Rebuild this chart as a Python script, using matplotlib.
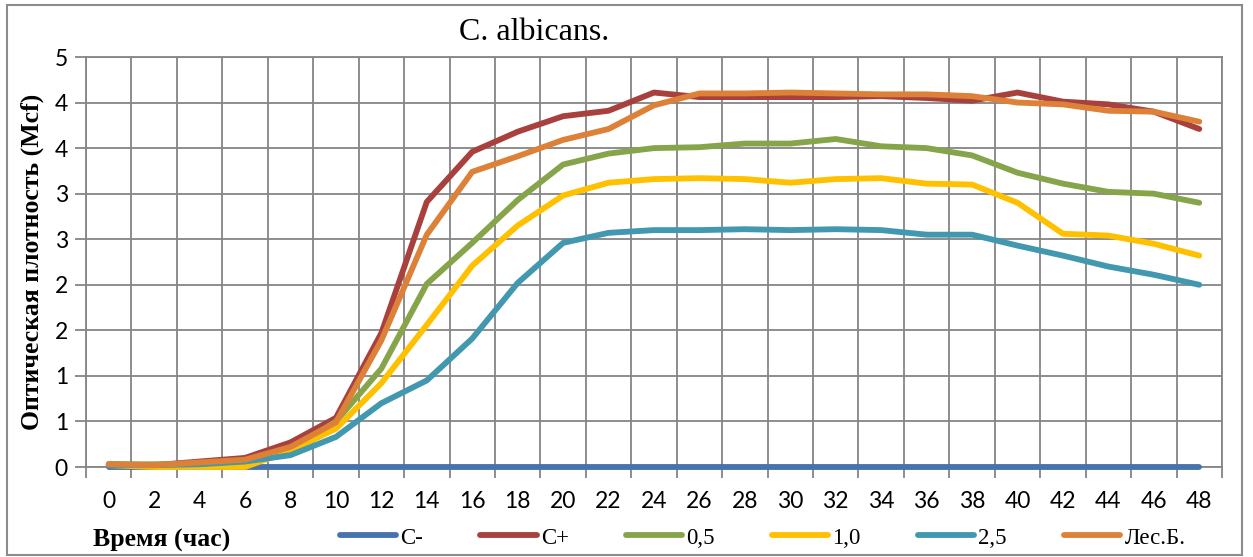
import matplotlib
matplotlib.use("Agg")
import matplotlib.pyplot as plt
from matplotlib.patches import Rectangle
import numpy as np

# time points (hours)
hours = [0, 2, 4, 6, 8, 10, 12, 14, 16, 18, 20, 22, 24, 26, 28, 30, 32, 34, 36, 38, 40, 42, 44, 46, 48]

# optical density per group
c_minus = [0, 0, 0, 0, 0, 0, 0, 0, 0, 0, 0, 0, 0, 0, 0, 0, 0, 0, 0, 0, 0, 0, 0, 0, 0]
c_plus = [0.03, 0.02, 0.06, 0.10, 0.27, 0.54, 1.47, 2.91, 3.46, 3.68, 3.85, 3.91, 4.11,
          4.06, 4.06, 4.06, 4.06, 4.07, 4.05, 4.02, 4.11, 4.01, 3.98, 3.90, 3.71]
c_05 = [0.03, 0.03, 0.04, 0.07, 0.19, 0.50, 1.08, 2.01, 2.46, 2.93, 3.32, 3.44, 3.50,
        3.51, 3.55, 3.55, 3.60, 3.52, 3.50, 3.42, 3.23, 3.11, 3.02, 3.00, 2.90]
c_10 = [0.02, 0.0, 0.0, 0.0, 0.18, 0.42, 0.92, 1.56, 2.21, 2.65, 2.98, 3.12, 3.16,
        3.17, 3.16, 3.12, 3.16, 3.17, 3.11, 3.10, 2.90, 2.56, 2.54, 2.45, 2.32]
c_25 = [0.02, 0.02, 0.03, 0.06, 0.13, 0.33, 0.70, 0.95, 1.41, 2.02, 2.46, 2.57, 2.60,
        2.60, 2.61, 2.60, 2.61, 2.60, 2.55, 2.55, 2.43, 2.32, 2.20, 2.11, 2.00]
les_b = [0.03, 0.02, 0.05, 0.08, 0.22, 0.49, 1.39, 2.55, 3.24, 3.41, 3.59, 3.71, 3.97,
         4.10, 4.10, 4.11, 4.10, 4.09, 4.09, 4.07, 4.00, 3.98, 3.91, 3.90, 3.79]

series = [
    ("C-", c_minus, "#4672AE"),
    ("C+", c_plus, "#A8413E"),
    ("0,5", c_05, "#86A54A"),
    ("1,0", c_10, "#FFC000"),
    ("2,5", c_25, "#4198AF"),
    ("Лес.Б.", les_b, "#DD8139"),
]

y_ticks = [0, 0.5, 1.0, 1.5, 2.0, 2.5, 3.0, 3.5, 4.0, 4.5]
y_tick_labels = ["0", "1", "1", "2", "2", "3", "3", "4", "4", "5"]

W, H = 1253, 557
grid_col = "#858585"
serif = "Liberation Serif"
tick_font = "Lato"

fig = plt.figure(figsize=(W / 100, H / 100), dpi=100)
ax = fig.add_axes([86 / W, 1 - 467 / H, (1222 - 86) / W, (467 - 57) / H])

for name, vals, col in series:
    ax.plot(hours, vals, color=col, lw=4.2, label=name, zorder=3,
            solid_capstyle="round", solid_joinstyle="round", clip_on=False)

ax.set_xlim(-1, 49)
ax.set_ylim(0, 4.5)
ax.set_xticks(hours)
ax.set_xticklabels([str(h) for h in hours], fontfamily=tick_font, fontsize=16.5)
ax.set_xticks(np.arange(-1, 50, 2), minor=True)
ax.set_yticks(y_ticks)
ax.set_yticklabels(y_tick_labels, fontfamily=tick_font, fontsize=16.5)

ax.tick_params(axis="x", which="major", length=0, pad=17)
ax.tick_params(axis="x", which="minor", length=8, width=1.3, color=grid_col)
ax.tick_params(axis="y", which="major", length=8, width=1.3, color=grid_col, pad=5)

ax.grid(True, which="minor", axis="x", color=grid_col, lw=1.3)
ax.grid(True, which="major", axis="y", color=grid_col, lw=1.3)
ax.set_axisbelow(True)
for s in ax.spines.values():
    s.set_color(grid_col)
    s.set_linewidth(1.3)

fig.text(534 / W, 1 - 32 / H, "C. albicans.", fontfamily=serif, fontsize=23,
         ha="center", va="center")
fig.text(32 / W, 1 - 262 / H, "Оптическая плотность (Mcf)", fontfamily=serif,
         fontsize=18.5, fontweight="bold", rotation=90, ha="center", va="center")
fig.text(93 / W, 1 - 547 / H, "Время (час)", fontfamily=serif, fontsize=18.5,
         fontweight="bold", ha="left", va="baseline")

fig.legend(loc="center left", bbox_to_anchor=(340 / W, 1 - 538 / H), ncol=6,
           frameon=False, prop={"family": serif, "size": 16.5},
           handlelength=2.45, handletextpad=0.18, columnspacing=2.5,
           borderpad=0, borderaxespad=0)

fig.add_artist(Rectangle((7 / W, 1 - 555 / H), (1242 - 7) / W, (555 - 5) / H,
                         transform=fig.transFigure, fill=False,
                         edgecolor="#8C8C8C", lw=1.5))

fig.savefig("out.png", dpi=100)
